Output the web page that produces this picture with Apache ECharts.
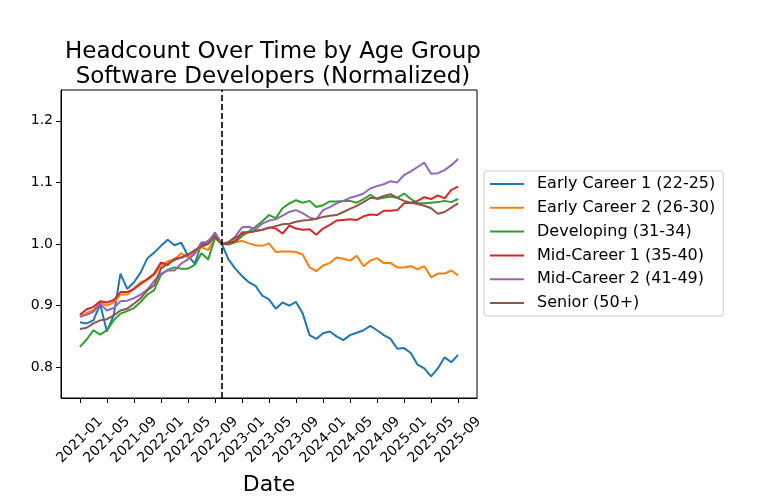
<!DOCTYPE html>
<html>
<head>
<meta charset="utf-8">
<script src="https://cdn.jsdelivr.net/npm/echarts@6/dist/echarts.min.js"></script>
<style>
  html, body { margin: 0; padding: 0; background: #fff; }
  #chart { width: 782px; height: 503px; }
</style>
</head>
<body>
<div id="chart"></div>
<script>
// month index 0 = 2021-01 ... 56 = 2025-09
const tickIdx = [0, 4, 8, 12, 16, 20, 24, 28, 32, 36, 40, 44, 48, 52, 56]
const tickLabels = ['2021-01', '2021-05', '2021-09', '2022-01', '2022-05', '2022-09', '2023-01',
  '2023-05', '2023-09', '2024-01', '2024-05', '2024-09', '2025-01', '2025-05', '2025-09']
const yTicks = [0.8, 0.9, 1.0, 1.1, 1.2]
const baseIdx = 21 // 2022-10

const names = ['Early Career 1 (22-25)', 'Early Career 2 (26-30)', 'Developing (31-34)',
  'Mid-Career 1 (35-40)', 'Mid-Career 2 (41-49)', 'Senior (50+)']
const colors = ['#1f77b4', '#ff7f0e', '#2ca02c', '#d62728', '#9467bd', '#8c564b']

const early1 = [0.873, 0.871, 0.876, 0.902, 0.858, 0.884, 0.952, 0.927, 0.938, 0.954,
  0.977, 0.986, 0.997, 1.007, 0.998, 1.002, 0.981, 0.968, 1.0, 1.002,
  1.016, 1.0, 0.975, 0.96, 0.948, 0.938, 0.932, 0.916, 0.91, 0.895,
  0.905, 0.9, 0.906, 0.887, 0.852, 0.846, 0.855, 0.858, 0.85, 0.844,
  0.852, 0.856, 0.86, 0.867, 0.86, 0.852, 0.846, 0.83, 0.831, 0.823,
  0.804, 0.798, 0.785, 0.798, 0.816, 0.808, 0.82]
const early2 = [0.882, 0.888, 0.893, 0.905, 0.9, 0.905, 0.918, 0.918, 0.928, 0.938,
  0.942, 0.95, 0.965, 0.972, 0.975, 0.985, 0.978, 0.985, 0.995, 0.99,
  1.01, 1.0, 1.0, 1.003, 1.005, 1.001, 0.998, 0.997, 1.001, 0.987,
  0.988, 0.988, 0.987, 0.983, 0.962, 0.956, 0.965, 0.969, 0.978, 0.976,
  0.973, 0.981, 0.964, 0.973, 0.977, 0.969, 0.969, 0.962, 0.962, 0.964,
  0.959, 0.964, 0.946, 0.952, 0.952, 0.957, 0.949]
const developing = [0.833, 0.845, 0.86, 0.853, 0.86, 0.876, 0.887, 0.891, 0.896, 0.906,
  0.918, 0.925, 0.95, 0.958, 0.962, 0.96, 0.96, 0.966, 0.985, 0.975,
  1.01, 1.0, 0.999, 1.003, 1.013, 1.02, 1.028, 1.037, 1.047, 1.042,
  1.058, 1.066, 1.071, 1.067, 1.07, 1.06, 1.063, 1.069, 1.069, 1.07,
  1.07, 1.067, 1.073, 1.08, 1.073, 1.075, 1.077, 1.075, 1.082, 1.073,
  1.066, 1.066, 1.067, 1.068, 1.07, 1.068, 1.073]
const mid1 = [0.885, 0.894, 0.898, 0.907, 0.905, 0.909, 0.922, 0.922, 0.927, 0.935,
  0.943, 0.952, 0.97, 0.966, 0.976, 0.978, 0.983, 0.988, 0.998, 1.005,
  1.016, 1.0, 1.001, 1.005, 1.019, 1.019, 1.021, 1.023, 1.027, 1.025,
  1.017, 1.03, 1.025, 1.023, 1.024, 1.015, 1.025, 1.031, 1.038, 1.039,
  1.04, 1.039, 1.045, 1.048, 1.047, 1.054, 1.054, 1.055, 1.066, 1.067,
  1.07, 1.076, 1.073, 1.079, 1.074, 1.088, 1.093]
const mid2 = [0.882, 0.885, 0.89, 0.903, 0.892, 0.896, 0.907, 0.908, 0.912, 0.918,
  0.926, 0.94, 0.952, 0.957, 0.957, 0.968, 0.975, 0.984, 1.003, 1.003,
  1.019, 1.0, 1.003, 1.012, 1.027, 1.028, 1.024, 1.033, 1.038, 1.04,
  1.046, 1.052, 1.055, 1.05, 1.043, 1.04, 1.055, 1.06, 1.066, 1.07,
  1.075, 1.078, 1.082, 1.09, 1.094, 1.097, 1.102, 1.1, 1.112, 1.118,
  1.125, 1.132, 1.114, 1.115, 1.12, 1.128, 1.138]
const senior = [0.862, 0.864, 0.871, 0.876, 0.878, 0.884, 0.892, 0.895, 0.903, 0.912,
  0.925, 0.933, 0.96, 0.968, 0.974, 0.978, 0.983, 0.99, 0.996, 1.0,
  1.013, 1.0, 1.003, 1.01, 1.016, 1.019, 1.021, 1.023, 1.026, 1.029,
  1.032, 1.033, 1.036, 1.038, 1.039, 1.041, 1.044, 1.046, 1.047, 1.052,
  1.057, 1.062, 1.068, 1.075, 1.074, 1.078, 1.081, 1.075, 1.07, 1.067,
  1.065, 1.062, 1.058, 1.049, 1.052, 1.059, 1.066]

const seriesValues = [early1, early2, developing, mid1, mid2, senior]
const font = 'DejaVu Sans'

const chart = echarts.init(document.getElementById('chart'), null, { renderer: 'canvas' })

const series = seriesValues.map((vals, k) => {
  const s = {
    name: names[k],
    type: 'line',
    data: vals.map((v, i) => [i, v]),
    showSymbol: false,
    color: colors[k],
    lineStyle: { width: 2, color: colors[k] },
    emphasis: { disabled: true },
    z: 2 + k
  }
  if (k === 0) {
    // dashed line at normalization month
    s.markLine = {
      silent: true,
      symbol: 'none',
      label: { show: false },
      lineStyle: { color: '#000', type: [6, 3], width: 1.6 },
      data: [{ xAxis: baseIdx }],
      z: 10
    }
  }
  return s
})

chart.setOption({
  animation: false,
  backgroundColor: '#fff',
  textStyle: { fontFamily: font },
  title: {
    text: 'Headcount Over Time by Age Group\nSoftware Developers (Normalized)',
    left: 268,
    top: 35,
    textAlign: 'center',
    textStyle: { fontFamily: font, fontSize: 23, fontWeight: 'normal', color: '#000', lineHeight: 25 }
  },
  legend: {
    orient: 'vertical',
    left: 484,
    top: 171,
    data: names,
    icon: 'rect',
    itemWidth: 34,
    itemHeight: 2,
    itemGap: 7.8,
    padding: [5, 8, 5, 6],
    borderColor: '#cccccc',
    borderWidth: 1,
    borderRadius: 3,
    backgroundColor: '#fff',
    textStyle: { fontFamily: font, fontSize: 16, color: '#000', lineHeight: 16, padding: [0, 0, 0, 8] }
  },
  grid: {
    left: 61,
    top: 90,
    right: 305,
    bottom: 105,
    show: true,
    borderColor: '#000',
    borderWidth: 1,
    backgroundColor: 'transparent'
  },
  xAxis: {
    type: 'value',
    min: -2.8,
    max: 58.8,
    name: 'Date',
    nameLocation: 'middle',
    nameGap: 76,
    nameTextStyle: { fontFamily: font, fontSize: 22, color: '#000' },
    axisLine: { show: true, onZero: false, lineStyle: { color: '#000', width: 1 } },
    splitLine: { show: false },
    axisTick: { show: true, length: 5, inside: false, customValues: tickIdx, lineStyle: { color: '#000' } },
    axisLabel: {
      customValues: tickIdx,
      rotate: 45,
      align: 'center',
      verticalAlign: 'middle',
      margin: 42,
      fontFamily: font,
      fontSize: 14,
      color: '#000',
      formatter: v => tickLabels[tickIdx.indexOf(Math.round(v))] || ''
    }
  },
  yAxis: {
    type: 'value',
    min: 0.75,
    max: 1.25,
    axisLine: { show: true, onZero: false, lineStyle: { color: '#000', width: 1 } },
    splitLine: { show: false },
    axisTick: { show: true, length: 5, inside: false, customValues: yTicks, lineStyle: { color: '#000' } },
    axisLabel: {
      customValues: yTicks,
      margin: 8,
      fontFamily: font,
      fontSize: 14,
      color: '#000',
      formatter: v => v.toFixed(1)
    }
  },
  series: series
})
</script>
</body>
</html>
